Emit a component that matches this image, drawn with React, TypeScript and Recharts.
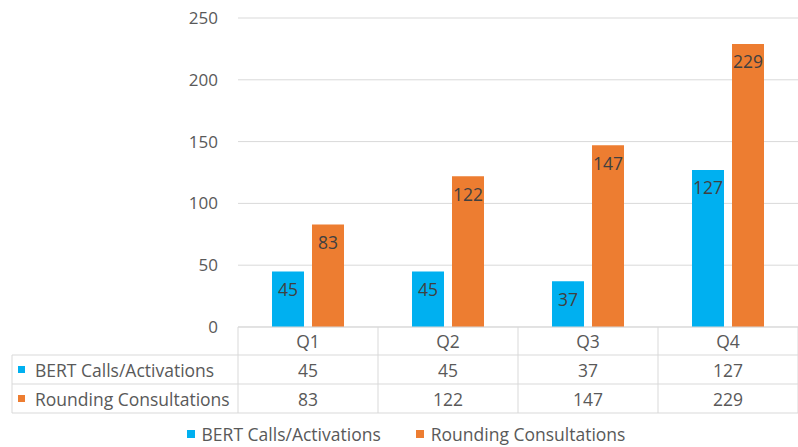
import { BarChart, Bar, XAxis, YAxis, CartesianGrid, Legend, LabelList } from "recharts";

const categories = ["Q1", "Q2", "Q3", "Q4"];
const bertValues = [45, 45, 37, 127];
const roundingValues = [83, 122, 147, 229];
const yTicks = [0, 50, 100, 150, 200, 250];
const seriesNames = ["BERT Calls/Activations", "Rounding Consultations"];
const seriesColors = ["#00B0F0", "#ED7D31"];

const data = categories.map((q, i) => ({
  q,
  bert: bertValues[i],
  rounding: roundingValues[i],
}));

const FONT = "'Open Sans', sans-serif";
const GRID = "#d9d9d9";
const TEXT = "#595959";
const COL = 140;
const ROWS = [28, 57, 86];

function TableTick(props: any) {
  const { x, y, index } = props;
  const left = x - COL / 2;
  const right = x + COL / 2;
  const row = [categories[index], bertValues[index], roundingValues[index]];
  return (
    <g>
      <line x1={left} x2={left} y1={y} y2={y + 86} stroke={GRID} />
      {index === categories.length - 1 && (
        <line x1={right} x2={right} y1={y} y2={y + 86} stroke={GRID} />
      )}
      {ROWS.map((r) => (
        <line key={r} x1={left} x2={right} y1={y + r} y2={y + r} stroke={GRID} />
      ))}
      {row.map((v, i) => (
        <text
          key={i}
          x={x}
          y={y + (i === 0 ? 14 : i === 1 ? 42.5 : 71.5)}
          textAnchor="middle"
          dominantBaseline="central"
          fill={TEXT}
          fontSize={17.5}
          fontFamily={FONT}
        >
          {v}
        </text>
      ))}
      {index === 0 && (
        <g>
          <line x1={12} x2={12} y1={y + 28} y2={y + 86} stroke={GRID} />
          {ROWS.map((r) => (
            <line key={r} x1={12} x2={left} y1={y + r} y2={y + r} stroke={GRID} />
          ))}
          {seriesNames.map((name, i) => (
            <g key={name}>
              <rect x={18} y={y + 39 + i * 29} width={7} height={7} fill={seriesColors[i]} />
              <text
                x={35}
                y={y + 42.5 + i * 29}
                dominantBaseline="central"
                fill={TEXT}
                fontSize={17.5}
                fontFamily={FONT}
              >
                {name}
              </text>
            </g>
          ))}
        </g>
      )}
    </g>
  );
}

function LegendContent() {
  return (
    <div
      style={{
        display: "flex",
        justifyContent: "center",
        gap: 35,
        fontFamily: FONT,
        fontSize: 17.5,
        lineHeight: "22px",
        color: TEXT,
        paddingTop: 10,
        paddingLeft: 14,
      }}
    >
      {seriesNames.map((name, i) => (
        <div key={name} style={{ display: "flex", alignItems: "center" }}>
          <span
            style={{
              display: "inline-block",
              width: 8,
              height: 8,
              background: seriesColors[i],
              marginRight: 7,
            }}
          />
          {name}
        </div>
      ))}
    </div>
  );
}

export default function App() {
  return (
    <div style={{ position: "absolute", left: 0, top: 0 }}>
      <BarChart
        width={798}
        height={447}
        data={data}
        margin={{ top: 18, right: 0, bottom: 0, left: 0 }}
        barSize={32}
        barGap={8}
      >
        <CartesianGrid vertical={false} stroke={GRID} />
        <XAxis
          dataKey="q"
          axisLine={{ stroke: GRID }}
          tickLine={false}
          tickSize={0}
          tickMargin={0}
          height={86}
          interval={0}
          tick={<TableTick />}
        />
        <YAxis
          domain={[0, 250]}
          ticks={yTicks}
          axisLine={false}
          tickLine={false}
          tickSize={0}
          tickMargin={20}
          width={238}
          tick={{ fill: TEXT, fontSize: 17, fontFamily: FONT }}
        />
        <Legend
          verticalAlign="bottom"
          height={34}
          content={<LegendContent />}
          wrapperStyle={{ left: 0, width: 798 }}
        />
        <Bar dataKey="bert" name={seriesNames[0]} fill={seriesColors[0]} isAnimationActive={false}>
          <LabelList
            dataKey="bert"
            position="insideTop"
            offset={12}
            fill="#404040"
            fontSize={17.5}
            fontFamily={FONT}
          />
        </Bar>
        <Bar dataKey="rounding" name={seriesNames[1]} fill={seriesColors[1]} isAnimationActive={false}>
          <LabelList
            dataKey="rounding"
            position="insideTop"
            offset={12}
            fill="#404040"
            fontSize={17.5}
            fontFamily={FONT}
          />
        </Bar>
      </BarChart>
    </div>
  );
}
